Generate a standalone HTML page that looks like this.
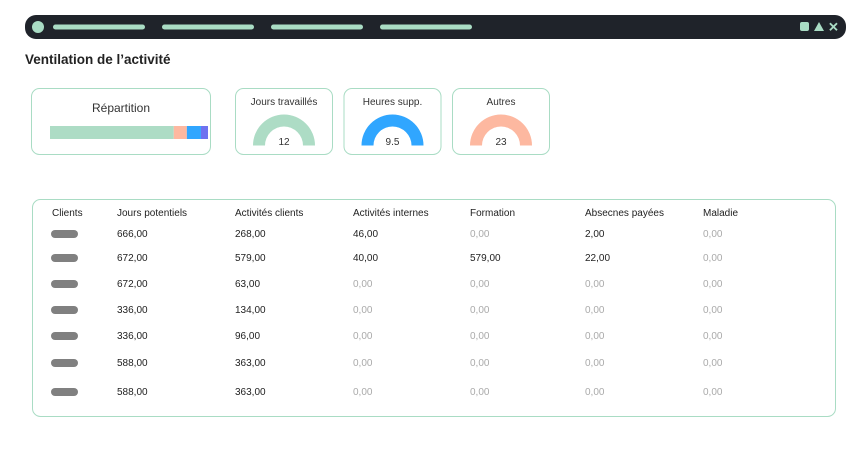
<!DOCTYPE html>
<html><head><meta charset="utf-8"><style>
body{margin:0;width:868px;height:447px;background:#fff;font-family:"Liberation Sans",sans-serif;overflow:hidden}
svg text{font-family:"Liberation Sans",sans-serif}
</style></head><body>
<svg id="s" width="868" height="447" xmlns="http://www.w3.org/2000/svg">
<g>
<rect x="25" y="15" width="821" height="24" rx="11" fill="#1f232a"/>
<circle cx="38" cy="27" r="6" fill="#a9dcc4"/>
<rect x="53" y="24.5" width="92" height="5" rx="2.5" fill="#a9dcc4"/>
<rect x="162" y="24.5" width="92" height="5" rx="2.5" fill="#a9dcc4"/>
<rect x="271" y="24.5" width="92" height="5" rx="2.5" fill="#a9dcc4"/>
<rect x="380" y="24.5" width="92" height="5" rx="2.5" fill="#a9dcc4"/>
<rect x="800" y="22" width="9" height="9" rx="2" fill="#a9dcc4"/>
<polygon points="814,31 819,22 824,31" fill="#a9dcc4"/>
<text x="828" y="31.5" font-size="13" font-weight="bold" fill="#a9dcc4">✕</text>
</g>
<text x="25" y="64" font-size="13.5" font-weight="bold" fill="#222">Ventilation de l’activité</text>
<g>
<rect x="31.5" y="88.5" width="179" height="66" rx="8" fill="none" stroke="#a9dcc4"/>
<text x="121" y="112" font-size="12" text-anchor="middle" fill="#333">Répartition</text>
</g>
<g id="bar"></g>
<g id="gauges"></g>
<g>
<rect x="32.5" y="199.5" width="803" height="217" rx="8" fill="none" stroke="#a9dcc4"/>
</g>
<g id="table"></g>
</svg>
<script>
const NS="http://www.w3.org/2000/svg";
const barShares=[123,13,14,7];
const barColors=["#addcc5","#fdb8a0","#30a6ff","#6f72f0"];
const gaugeTitles=["Jours travaillés","Heures supp.","Autres"];
const gaugeValues=["12","9.5","23"];
const gaugeColors=["#addcc5","#30a6ff","#fdb8a0"];
const headers=["Clients","Jours potentiels","Activités clients","Activités internes","Formation","Absecnes payées","Maladie"];
const colJours=["666,00","672,00","672,00","336,00","336,00","588,00","588,00"];
const colClients=["268,00","579,00","63,00","134,00","96,00","363,00","363,00"];
const colInternes=["46,00","40,00","0,00","0,00","0,00","0,00","0,00"];
const colFormation=["0,00","579,00","0,00","0,00","0,00","0,00","0,00"];
const colAbs=["2,00","22,00","0,00","0,00","0,00","0,00","0,00"];
const colMaladie=["0,00","0,00","0,00","0,00","0,00","0,00","0,00"];
function mk(t,a,p){const e=document.createElementNS(NS,t);for(const k in a)e.setAttribute(k,a[k]);p.appendChild(e);return e;}
// bar
const bar=document.getElementById('bar');
const tot=barShares.reduce((a,b)=>a+b,0);let bx=50;
barShares.forEach((v,i)=>{const w=v/tot*158;const r=mk('rect',{x:bx,y:126,width:w,height:13,fill:barColors[i]},bar);

bx+=w;});
// gauges
const G=document.getElementById('gauges');
gaugeTitles.forEach((t,i)=>{const x0=235.5+i*108.5;const g=mk('g',{},G);


mk('rect',{x:x0,y:88.5,width:97,height:66,rx:8,fill:'none',stroke:'#a9dcc4'},g);
const cx=x0+48.5;
mk('text',{x:cx,y:105,'font-size':10,'text-anchor':'middle',fill:'#333'},g).textContent=t;
const R=31,r=19,cy=145.5;
mk('path',{d:`M${cx-R},${cy} A${R},${R} 0 0 1 ${cx+R},${cy} L${cx+r},${cy} A${r},${r} 0 0 0 ${cx-r},${cy} Z`,fill:gaugeColors[i]},g);
const tv=mk('text',{x:cx,y:145,'font-size':10,'text-anchor':'middle',fill:'#333'},g);tv.textContent=gaugeValues[i];


});
// table
const T=document.getElementById('table');
const cols=[52,117,235,353,470,585,703];
headers.forEach((h,i)=>{const e=mk('text',{x:cols[i],y:216,'font-size':10,fill:'#222'},T);e.textContent=h;

});
const rowsY=[237,261,287,313,339,366,395];
const data=[colJours,colClients,colInternes,colFormation,colAbs,colMaladie];
rowsY.forEach((y,r)=>{
const p=mk('rect',{x:51,y:y-7,width:27,height:8,rx:4,fill:'#808080'},T);


data.forEach((c,j)=>{const v=c[r];const z=v==="0,00";
const e=mk('text',{x:cols[j+1],y:y,'font-size':10,fill:z?'#aaa':'#222'},T);e.textContent=v;

});
});
</script>
</body></html>
